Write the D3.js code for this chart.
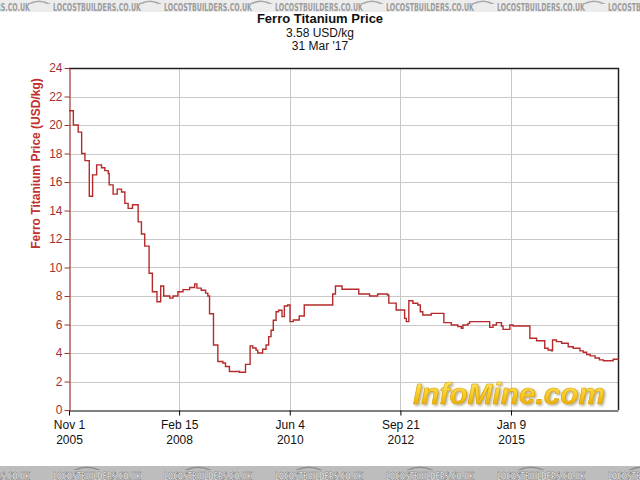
<!DOCTYPE html>
<html><head><meta charset="utf-8">
<script src="https://cdn.jsdelivr.net/npm/d3@7"></script>
<style>body{margin:0;background:#fff}svg{display:block;font-family:"Liberation Sans",Arial,sans-serif}</style>
</head><body>
<svg id="c" width="640" height="480"></svg>
<script>
// ---- data ----
const dates = [
"2005-11-01","2005-12-04","2006-01-10","2006-02-05","2006-03-02","2006-04-04","2006-04-29","2006-05-30",
"2006-07-06","2006-07-31","2006-08-26","2006-09-02","2006-10-02","2006-11-02","2006-12-05","2006-12-30",
"2007-01-24","2007-02-26","2007-04-10","2007-05-05","2007-05-30","2007-07-02","2007-07-27","2007-08-31",
"2007-09-28","2007-10-21","2007-12-06","2007-12-31","2008-02-06","2008-03-15","2008-05-05","2008-06-12",
"2008-06-29","2008-08-01","2008-09-03","2008-09-20","2008-10-03","2008-11-02","2008-12-05","2009-01-12",
"2009-02-01","2009-03-03","2009-05-18","2009-07-03","2009-08-07","2009-08-27","2009-09-21","2009-10-04",
"2009-11-10","2009-12-06","2009-12-26","2010-01-13","2010-01-30","2010-02-20","2010-03-11","2010-04-06",
"2010-04-24","2010-05-19","2010-06-06","2010-07-01","2010-08-15","2010-09-22","2011-04-26","2011-05-17",
"2011-07-06","2011-11-10","2012-01-31","2012-04-01","2012-06-15","2012-06-25","2012-08-20","2012-10-23",
"2012-11-05","2012-11-24","2012-12-25","2013-01-31","2013-02-19","2013-03-10","2013-05-13","2013-08-17",
"2013-10-12","2013-12-01","2013-12-28","2014-01-09","2014-02-16","2014-03-01","2014-07-31","2014-08-25",
"2014-09-20","2014-10-28","2014-11-09","2014-12-31","2015-01-25","2015-06-01","2015-07-22","2015-09-22",
"2015-10-17","2015-11-12","2015-11-20","2015-12-20","2016-01-28","2016-03-18","2016-04-25","2016-06-15",
"2016-07-10","2016-08-05","2016-09-01","2016-10-08","2016-11-10","2016-12-10","2017-01-15","2017-02-22",
"2017-03-31"];
const prices = [
21.0,20.0,19.5,18.0,17.5,15.0,16.5,17.2,
17.0,16.8,16.6,15.8,15.15,15.5,15.3,14.5,
14.15,14.4,13.2,12.35,11.5,9.6,8.3,7.6,
8.7,8.0,7.85,8.0,8.3,8.45,8.6,8.85,
8.55,8.4,8.2,8.0,6.75,4.56,3.4,3.3,
3.05,2.7,2.65,3.2,4.5,4.35,4.2,4.0,
4.26,4.56,5.15,5.6,6.3,6.9,7.0,6.55,
7.3,7.37,6.2,6.32,6.6,7.37,8.14,8.7,
8.47,8.14,8.0,8.14,8.07,7.5,7.02,6.43,
6.2,7.67,7.49,7.37,6.9,6.67,6.78,6.13,
5.96,5.85,5.73,5.96,6.08,6.2,5.8,5.96,
6.13,5.9,5.66,5.96,5.9,5.03,4.86,4.33,
4.21,4.16,4.91,4.8,4.68,4.44,4.33,4.15,
4.05,3.9,3.8,3.65,3.52,3.46,3.46,3.56,
3.58];
const xTickDates = ["2005-11-01","2008-02-15","2010-06-04","2012-09-21","2015-01-09"];
const xTickDay = ["Nov 1","Feb 15","Jun 4","Sep 21","Jan 9"];
const xTickYear = ["2005","2008","2010","2012","2015"];
const yTicks = [0,2,4,6,8,10,12,14,16,18,20,22,24];
const titleText = "Ferro Titanium Price";
const subtitle1 = "3.58 USD/kg";
const subtitle2 = "31 Mar '17";
const yLabelText = "Ferro Titanium Price (USD/kg)";
const watermarkText = "LOCOSTBUILDERS.CO.UK";
const logoText = "InfoMine.com";
const domainStart = "2005-11-01", domainEnd = "2017-03-31";

// ---- drawing ----
const parse = d3.utcParse("%Y-%m-%d");
const data = dates.map((d,i)=>({date:parse(d), value:prices[i]}));
const svg = d3.select("#c");
const L=69, R=618, T=68, B=410;
const x = d3.scaleUtc().domain([parse(domainStart), parse(domainEnd)]).range([L,R]);
const y = d3.scaleLinear().domain([0,24]).range([B,T]);

const defs = svg.append("defs");
const lg = defs.append("linearGradient").attr("id","gold").attr("x1",0).attr("y1",0).attr("x2",0).attr("y2",1);
lg.append("stop").attr("offset","0%").attr("stop-color","#fff07a");
lg.append("stop").attr("offset","55%").attr("stop-color","#f8c820");
lg.append("stop").attr("offset","100%").attr("stop-color","#e0a000");
const f = defs.append("filter").attr("id","shadow").attr("x","-5%").attr("y","-20%").attr("width","115%").attr("height","150%");
f.append("feDropShadow").attr("dx",1.5).attr("dy",1.5).attr("stdDeviation",1).attr("flood-color","#6a5a20").attr("flood-opacity",0.5);

// watermark bands
svg.append("rect").attr("x",0).attr("y",0).attr("width",640).attr("height",12).attr("fill","#ececec");
svg.append("rect").attr("x",0).attr("y",466).attr("width",640).attr("height",14).attr("fill","#bdbdbd");
const wmX = d3.range(-1,7).map(i=>53+i*111);
wmX.forEach(xx=>{
  svg.append("path").attr("d",`M${xx-26},4 Q${xx-14},-3 ${xx-2},4 L${xx-6},4 Q${xx-14},0 ${xx-22},4 Z`).attr("fill","#a8a8a8");
  svg.append("text").attr("x",xx).attr("y",11).attr("font-size",10.5).attr("font-weight","bold")
    .attr("font-family","DejaVu Sans Condensed, Liberation Sans Narrow, sans-serif")
    .attr("textLength",88).attr("lengthAdjust","spacingAndGlyphs").attr("fill","#9c9c9c").text(watermarkText);
  svg.append("path").attr("d",`M${xx+20},470 Q${xx+34},463 ${xx+48},470 L${xx+44},470 Q${xx+34},466 ${xx+24},470 Z`).attr("fill","#8e8e8e");
  svg.append("text").attr("x",xx).attr("y",479.5).attr("font-size",10.5).attr("font-weight","bold")
    .attr("font-family","DejaVu Sans Condensed, Liberation Sans Narrow, sans-serif")
    .attr("textLength",88).attr("lengthAdjust","spacingAndGlyphs").attr("fill","#ffffff")
    .attr("stroke","#6a6a6a").attr("stroke-width",0.6).text(watermarkText);
});

// titles
svg.append("text").attr("x",320).attr("y",23).attr("text-anchor","middle").attr("font-size",13)
  .attr("font-weight","bold").attr("fill","#111").text(titleText);
svg.append("text").attr("x",320).attr("y",37).attr("text-anchor","middle").attr("font-size",12)
  .attr("fill","#111").text(subtitle1);
svg.append("text").attr("x",320).attr("y",50).attr("text-anchor","middle").attr("font-size",12)
  .attr("fill","#111").text(subtitle2);

// grid
const grid = svg.append("g").attr("stroke","#c8c8c8").attr("stroke-width",1);
yTicks.filter(v=>v>0 && v<24).forEach(v=>{
  grid.append("line").attr("x1",L).attr("x2",R).attr("y1",Math.round(y(v))+0.5).attr("y2",Math.round(y(v))+0.5);
});
xTickDates.slice(1).forEach(d=>{
  const xx=Math.round(x(parse(d)))+0.5;
  grid.append("line").attr("x1",xx).attr("x2",xx).attr("y1",T).attr("y2",B);
});

// logo
svg.append("text").attr("x",413).attr("y",404).attr("font-size",29).attr("font-weight","bold")
  .attr("font-style","italic").attr("textLength",192).attr("lengthAdjust","spacingAndGlyphs")
  .attr("fill","url(#gold)").attr("stroke","#d8a000").attr("stroke-width",0.6)
  .attr("filter","url(#shadow)").text(logoText);

// frame top/right
svg.append("path").attr("d",`M${L},${T+0.5}H${R+0.5}V${B}`).attr("fill","none").attr("stroke","#222").attr("stroke-width",1.5);

// line
const line = d3.line().curve(d3.curveStepAfter).x(d=>x(d.date)).y(d=>y(d.value));
svg.append("path").datum(data).attr("d",line).attr("fill","none").attr("stroke","#b52a2a").attr("stroke-width",1.4);

// x axis
const xAxis = d3.axisBottom(x).tickValues(xTickDates.map(parse)).tickSize(5).tickSizeOuter(0).tickFormat(()=>"");
const gx = svg.append("g").attr("transform",`translate(0,${B+0.5})`).call(xAxis);
gx.select(".domain").attr("stroke","#000").attr("stroke-width",1.2);
gx.selectAll(".tick line").attr("stroke","#000");
gx.selectAll(".tick").each(function(d,i){
  const t = d3.select(this).append("text").attr("fill","#111").attr("font-size",12).attr("text-anchor","middle")
    .attr("font-family","Liberation Sans, Arial, sans-serif");
  t.append("tspan").attr("x",0).attr("y",18).text(xTickDay[i]);
  t.append("tspan").attr("x",0).attr("y",33).text(xTickYear[i]);
});

// y axis
const yAxis = d3.axisLeft(y).tickValues(yTicks).tickSize(5).tickSizeOuter(0).tickFormat(d3.format("d"));
const gy = svg.append("g").attr("transform",`translate(${L+0.5},0)`).call(yAxis);
gy.select(".domain").attr("stroke","#a03333").attr("stroke-width",1.2);
gy.selectAll(".tick line").attr("stroke","#a03333");
gy.selectAll(".tick text").attr("fill","#a03333").attr("font-size",12)
  .attr("font-family","Liberation Sans, Arial, sans-serif").attr("x",-7);

// y label
svg.append("text").attr("transform",`translate(40,${(72+255)/2}) rotate(-90)`).attr("text-anchor","middle")
  .attr("font-size",12).attr("font-weight","bold").attr("fill","#c03030").text(yLabelText);
</script>
</body></html>
